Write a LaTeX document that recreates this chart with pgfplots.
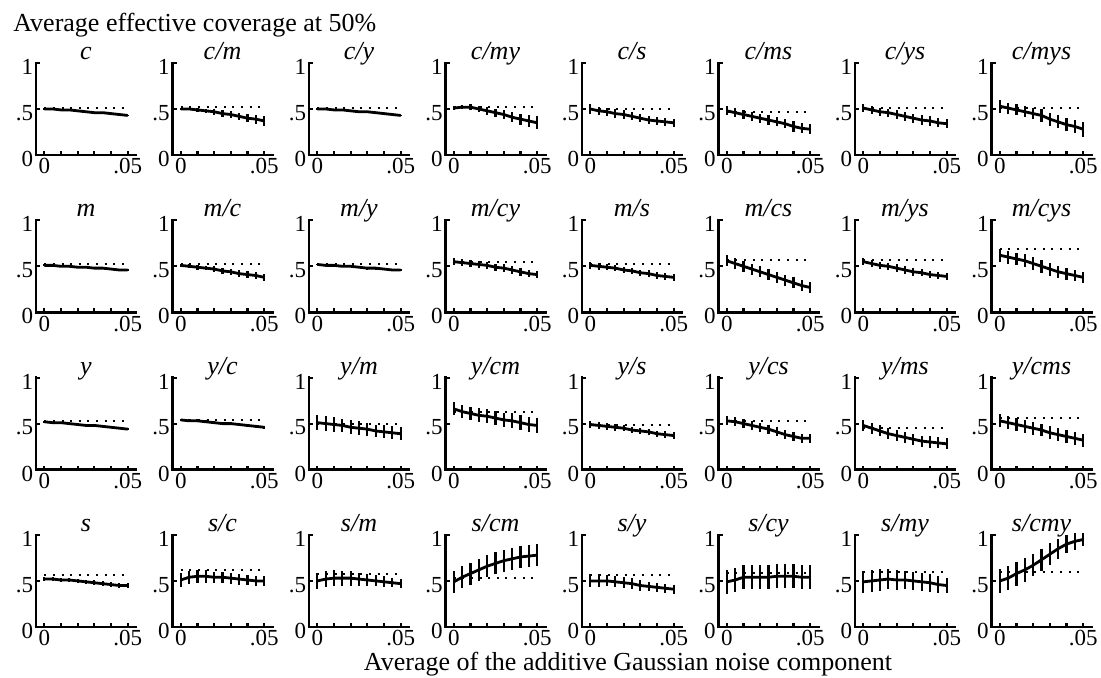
\documentclass[border=0pt]{standalone}
\usepackage{pgfplots}
\pgfplotsset{compat=1.18}
\usepackage{fontspec}
\setmainfont{Liberation Serif}

\pgfplotsset{panel/.style={
  anchor=south west,
  scale only axis, width=50pt, height=46pt,
  xmin=-0.005, xmax=0.055, ymin=0, ymax=1,
  axis lines*=left,
  axis line style={line width=1.3pt, line cap=rect},
  xtick={0,0.01,0.02,0.03,0.04,0.05},
  xticklabels={0,,,,,.05},
  scaled x ticks=false, scaled y ticks=false,
  ytick={0,0.5,1}, yticklabels={0,.5,1},
  tick align=inside, major tick length=2pt,
  tick style={line width=1.1pt, black},
  xticklabel style={font=\fontsize{11.5}{12}\selectfont, inner sep=0pt, anchor=north, yshift=-1.6pt},
  yticklabel style={font=\fontsize{11.5}{12}\selectfont, inner sep=0pt, anchor=east, xshift=-1.3pt, yshift=-2pt},
  every axis title/.style={font=\itshape\fontsize{13}{14}\selectfont, at={(0.5,1)}, anchor=base, inner sep=0pt, yshift=1.8pt},
  clip=false,
}}

\newcommand{\panel}[5]{%
\begin{axis}[panel, at={({(18+68.25*#1)*1pt},{(-77.5-78.65*#2)*1pt})}, title={#3}]
\addplot[black, line width=1pt, dash pattern=on 1pt off 3.3pt] coordinates {(0,#4) (0.05,#4)};
\addplot[black, line width=1.4pt, error bars/.cd, y dir=both, y explicit, error mark=none, error bar style={line width=1.1pt}] table[row sep=\\, x=x, y=y, y error=e] {#5};
\end{axis}}

\begin{document}
\begin{tikzpicture}
\useasboundingbox (0,0) rectangle (550.5pt,-339pt);
\node[anchor=base west, inner sep=0pt, font=\fontsize{13}{15}\selectfont] at (6.5pt,-16pt) {Average effective coverage at 50\%};
\node[anchor=base, inner sep=0pt, font=\fontsize{13}{15}\selectfont] at (314pt,-335pt) {Average of the additive Gaussian noise component};

% Row 1
\panel{0}{0}{c}{0.51}{x y e\\ 0 0.50 0.01\\ 0.005 0.50 0.01\\ 0.01 0.49 0.01\\ 0.015 0.49 0.01\\ 0.02 0.48 0.01\\ 0.025 0.47 0.01\\ 0.03 0.46 0.01\\ 0.035 0.46 0.01\\ 0.04 0.45 0.01\\ 0.045 0.44 0.01\\ 0.05 0.43 0.01\\}
\panel{1}{0}{c/m}{0.52}{x y e\\ 0 0.50 0.01\\ 0.005 0.50 0.015\\ 0.01 0.49 0.02\\ 0.015 0.48 0.025\\ 0.02 0.47 0.03\\ 0.025 0.45 0.035\\ 0.03 0.44 0.04\\ 0.035 0.42 0.04\\ 0.04 0.40 0.045\\ 0.045 0.39 0.05\\ 0.05 0.37 0.05\\}
\panel{2}{0}{c/y}{0.51}{x y e\\ 0 0.50 0.01\\ 0.005 0.50 0.01\\ 0.01 0.49 0.01\\ 0.015 0.49 0.01\\ 0.02 0.48 0.01\\ 0.025 0.47 0.01\\ 0.03 0.47 0.01\\ 0.035 0.46 0.01\\ 0.04 0.45 0.01\\ 0.045 0.44 0.01\\ 0.05 0.43 0.01\\}
\panel{3}{0}{c/my}{0.52}{x y e\\ 0 0.51 0.02\\ 0.005 0.52 0.025\\ 0.01 0.52 0.03\\ 0.015 0.50 0.035\\ 0.02 0.48 0.04\\ 0.025 0.46 0.045\\ 0.03 0.44 0.05\\ 0.035 0.41 0.055\\ 0.04 0.39 0.06\\ 0.045 0.37 0.065\\ 0.05 0.35 0.07\\}
\panel{4}{0}{c/s}{0.50}{x y e\\ 0 0.50 0.05\\ 0.005 0.48 0.045\\ 0.01 0.47 0.045\\ 0.015 0.45 0.045\\ 0.02 0.44 0.045\\ 0.025 0.42 0.045\\ 0.03 0.40 0.045\\ 0.035 0.38 0.045\\ 0.04 0.37 0.045\\ 0.045 0.36 0.045\\ 0.05 0.35 0.045\\}
\panel{5}{0}{c/ms}{0.47}{x y e\\ 0 0.48 0.05\\ 0.005 0.46 0.05\\ 0.01 0.44 0.05\\ 0.015 0.42 0.05\\ 0.02 0.40 0.05\\ 0.025 0.38 0.05\\ 0.03 0.36 0.05\\ 0.035 0.34 0.05\\ 0.04 0.31 0.055\\ 0.045 0.29 0.055\\ 0.05 0.28 0.055\\}
\panel{6}{0}{c/ys}{0.51}{x y e\\ 0 0.51 0.04\\ 0.005 0.49 0.04\\ 0.01 0.47 0.045\\ 0.015 0.46 0.045\\ 0.02 0.44 0.045\\ 0.025 0.42 0.05\\ 0.03 0.40 0.05\\ 0.035 0.38 0.05\\ 0.04 0.37 0.05\\ 0.045 0.35 0.05\\ 0.05 0.34 0.05\\}
\panel{7}{0}{c/mys}{0.51}{x y e\\ 0 0.53 0.07\\ 0.005 0.51 0.06\\ 0.01 0.49 0.06\\ 0.015 0.47 0.06\\ 0.02 0.45 0.06\\ 0.025 0.43 0.07\\ 0.03 0.39 0.07\\ 0.035 0.36 0.07\\ 0.04 0.33 0.07\\ 0.045 0.31 0.07\\ 0.05 0.28 0.08\\}

% Row 2
\panel{0}{1}{m}{0.53}{x y e\\ 0 0.51 0.01\\ 0.005 0.51 0.01\\ 0.01 0.50 0.01\\ 0.015 0.50 0.01\\ 0.02 0.49 0.01\\ 0.025 0.49 0.01\\ 0.03 0.48 0.01\\ 0.035 0.48 0.01\\ 0.04 0.47 0.01\\ 0.045 0.46 0.01\\ 0.05 0.46 0.01\\}
\panel{1}{1}{m/c}{0.52}{x y e\\ 0 0.51 0.02\\ 0.005 0.50 0.02\\ 0.01 0.49 0.025\\ 0.015 0.48 0.025\\ 0.02 0.47 0.03\\ 0.025 0.45 0.03\\ 0.03 0.44 0.035\\ 0.035 0.42 0.035\\ 0.04 0.41 0.04\\ 0.045 0.40 0.04\\ 0.05 0.38 0.04\\}
\panel{2}{1}{m/y}{0.53}{x y e\\ 0 0.52 0.01\\ 0.005 0.51 0.01\\ 0.01 0.51 0.01\\ 0.015 0.50 0.01\\ 0.02 0.50 0.01\\ 0.025 0.49 0.01\\ 0.03 0.48 0.015\\ 0.035 0.48 0.015\\ 0.04 0.47 0.015\\ 0.045 0.46 0.015\\ 0.05 0.46 0.015\\}
\panel{3}{1}{m/cy}{0.55}{x y e\\ 0 0.55 0.04\\ 0.005 0.54 0.04\\ 0.01 0.53 0.04\\ 0.015 0.52 0.04\\ 0.02 0.51 0.04\\ 0.025 0.49 0.04\\ 0.03 0.48 0.04\\ 0.035 0.46 0.04\\ 0.04 0.44 0.04\\ 0.045 0.42 0.04\\ 0.05 0.41 0.04\\}
\panel{4}{1}{m/s}{0.52}{x y e\\ 0 0.51 0.035\\ 0.005 0.50 0.035\\ 0.01 0.49 0.035\\ 0.015 0.48 0.035\\ 0.02 0.46 0.035\\ 0.025 0.45 0.035\\ 0.03 0.43 0.035\\ 0.035 0.42 0.035\\ 0.04 0.40 0.035\\ 0.045 0.39 0.035\\ 0.05 0.38 0.035\\}
\panel{5}{1}{m/cs}{0.57}{x y e\\ 0 0.56 0.06\\ 0.005 0.53 0.06\\ 0.01 0.50 0.06\\ 0.015 0.47 0.06\\ 0.02 0.44 0.06\\ 0.025 0.41 0.06\\ 0.03 0.38 0.06\\ 0.035 0.35 0.06\\ 0.04 0.32 0.06\\ 0.045 0.29 0.06\\ 0.05 0.27 0.06\\}
\panel{6}{1}{m/ys}{0.57}{x y e\\ 0 0.55 0.04\\ 0.005 0.53 0.04\\ 0.01 0.51 0.04\\ 0.015 0.50 0.04\\ 0.02 0.48 0.04\\ 0.025 0.46 0.04\\ 0.03 0.44 0.04\\ 0.035 0.43 0.04\\ 0.04 0.41 0.04\\ 0.045 0.40 0.04\\ 0.05 0.39 0.04\\}
\panel{7}{1}{m/cys}{0.69}{x y e\\ 0 0.62 0.07\\ 0.005 0.60 0.07\\ 0.01 0.58 0.07\\ 0.015 0.56 0.07\\ 0.02 0.53 0.07\\ 0.025 0.50 0.07\\ 0.03 0.47 0.07\\ 0.035 0.44 0.065\\ 0.04 0.42 0.065\\ 0.045 0.40 0.06\\ 0.05 0.38 0.06\\}

% Row 3
\panel{0}{2}{y}{0.53}{x y e\\ 0 0.52 0.01\\ 0.005 0.51 0.01\\ 0.01 0.51 0.01\\ 0.015 0.50 0.01\\ 0.02 0.49 0.01\\ 0.025 0.48 0.01\\ 0.03 0.48 0.01\\ 0.035 0.47 0.01\\ 0.04 0.46 0.01\\ 0.045 0.45 0.01\\ 0.05 0.44 0.01\\}
\panel{1}{2}{y/c}{0.54}{x y e\\ 0 0.54 0.015\\ 0.005 0.53 0.015\\ 0.01 0.53 0.015\\ 0.015 0.52 0.015\\ 0.02 0.51 0.015\\ 0.025 0.50 0.015\\ 0.03 0.50 0.015\\ 0.035 0.49 0.015\\ 0.04 0.48 0.015\\ 0.045 0.47 0.015\\ 0.05 0.46 0.015\\}
\panel{2}{2}{y/m}{0.50}{x y e\\ 0 0.51 0.08\\ 0.005 0.50 0.08\\ 0.01 0.49 0.08\\ 0.015 0.48 0.075\\ 0.02 0.46 0.075\\ 0.025 0.45 0.075\\ 0.03 0.44 0.07\\ 0.035 0.42 0.07\\ 0.04 0.41 0.07\\ 0.045 0.40 0.07\\ 0.05 0.39 0.07\\}
\panel{3}{2}{y/cm}{0.63}{x y e\\ 0 0.66 0.07\\ 0.005 0.63 0.07\\ 0.01 0.61 0.07\\ 0.015 0.59 0.075\\ 0.02 0.58 0.075\\ 0.025 0.56 0.075\\ 0.03 0.54 0.075\\ 0.035 0.53 0.08\\ 0.04 0.51 0.08\\ 0.045 0.49 0.08\\ 0.05 0.48 0.08\\}
\panel{4}{2}{y/s}{0.48}{x y e\\ 0 0.49 0.035\\ 0.005 0.48 0.035\\ 0.01 0.47 0.035\\ 0.015 0.46 0.035\\ 0.02 0.45 0.035\\ 0.025 0.43 0.035\\ 0.03 0.42 0.035\\ 0.035 0.41 0.035\\ 0.04 0.39 0.035\\ 0.045 0.38 0.035\\ 0.05 0.37 0.035\\}
\panel{5}{2}{y/cs}{0.53}{x y e\\ 0 0.53 0.05\\ 0.005 0.52 0.05\\ 0.01 0.50 0.05\\ 0.015 0.48 0.05\\ 0.02 0.46 0.05\\ 0.025 0.44 0.05\\ 0.03 0.41 0.05\\ 0.035 0.38 0.05\\ 0.04 0.36 0.05\\ 0.045 0.34 0.05\\ 0.05 0.34 0.05\\}
\panel{6}{2}{y/ms}{0.45}{x y e\\ 0 0.48 0.06\\ 0.005 0.45 0.06\\ 0.01 0.42 0.06\\ 0.015 0.39 0.06\\ 0.02 0.37 0.06\\ 0.025 0.35 0.06\\ 0.03 0.33 0.06\\ 0.035 0.31 0.06\\ 0.04 0.30 0.06\\ 0.045 0.29 0.06\\ 0.05 0.28 0.06\\}
\panel{7}{2}{y/cms}{0.56}{x y e\\ 0 0.53 0.07\\ 0.005 0.51 0.07\\ 0.01 0.49 0.07\\ 0.015 0.47 0.07\\ 0.02 0.45 0.07\\ 0.025 0.43 0.07\\ 0.03 0.40 0.07\\ 0.035 0.38 0.07\\ 0.04 0.36 0.07\\ 0.045 0.34 0.07\\ 0.05 0.32 0.07\\}

% Row 4
\panel{0}{3}{s}{0.56}{x y e\\ 0 0.52 0.025\\ 0.005 0.52 0.025\\ 0.01 0.51 0.025\\ 0.015 0.51 0.025\\ 0.02 0.50 0.025\\ 0.025 0.49 0.025\\ 0.03 0.48 0.025\\ 0.035 0.47 0.025\\ 0.04 0.46 0.025\\ 0.045 0.45 0.025\\ 0.05 0.45 0.025\\}
\panel{1}{3}{s/c}{0.62}{x y e\\ 0 0.51 0.08\\ 0.005 0.54 0.07\\ 0.01 0.55 0.07\\ 0.015 0.55 0.07\\ 0.02 0.54 0.06\\ 0.025 0.54 0.06\\ 0.03 0.53 0.06\\ 0.035 0.52 0.06\\ 0.04 0.51 0.05\\ 0.045 0.50 0.05\\ 0.05 0.50 0.05\\}
\panel{2}{3}{s/m}{0.58}{x y e\\ 0 0.50 0.09\\ 0.005 0.52 0.09\\ 0.01 0.53 0.09\\ 0.015 0.53 0.08\\ 0.02 0.53 0.08\\ 0.025 0.52 0.07\\ 0.03 0.51 0.07\\ 0.035 0.50 0.06\\ 0.04 0.49 0.06\\ 0.045 0.48 0.05\\ 0.05 0.47 0.05\\}
\panel{3}{3}{s/cm}{0.53}{x y e\\ 0 0.49 0.12\\ 0.005 0.54 0.12\\ 0.01 0.58 0.12\\ 0.015 0.62 0.12\\ 0.02 0.66 0.12\\ 0.025 0.69 0.12\\ 0.03 0.72 0.12\\ 0.035 0.74 0.12\\ 0.04 0.76 0.12\\ 0.045 0.77 0.12\\ 0.05 0.78 0.12\\}
\panel{4}{3}{s/y}{0.56}{x y e\\ 0 0.50 0.07\\ 0.005 0.50 0.07\\ 0.01 0.50 0.06\\ 0.015 0.49 0.06\\ 0.02 0.48 0.06\\ 0.025 0.47 0.06\\ 0.03 0.45 0.06\\ 0.035 0.44 0.05\\ 0.04 0.43 0.05\\ 0.045 0.42 0.05\\ 0.05 0.41 0.05\\}
\panel{5}{3}{s/cy}{0.59}{x y e\\ 0 0.49 0.13\\ 0.005 0.51 0.13\\ 0.01 0.54 0.13\\ 0.015 0.54 0.13\\ 0.02 0.54 0.13\\ 0.025 0.54 0.13\\ 0.03 0.55 0.13\\ 0.035 0.55 0.13\\ 0.04 0.55 0.13\\ 0.045 0.54 0.13\\ 0.05 0.54 0.13\\}
\panel{6}{3}{s/my}{0.60}{x y e\\ 0 0.49 0.12\\ 0.005 0.50 0.12\\ 0.01 0.51 0.12\\ 0.015 0.52 0.11\\ 0.02 0.51 0.11\\ 0.025 0.51 0.10\\ 0.03 0.50 0.10\\ 0.035 0.49 0.10\\ 0.04 0.48 0.10\\ 0.045 0.46 0.09\\ 0.05 0.45 0.08\\}
\panel{7}{3}{s/cmy}{0.60}{x y e\\ 0 0.50 0.13\\ 0.005 0.53 0.13\\ 0.01 0.58 0.13\\ 0.015 0.62 0.13\\ 0.02 0.67 0.12\\ 0.025 0.73 0.12\\ 0.03 0.79 0.12\\ 0.035 0.85 0.11\\ 0.04 0.90 0.10\\ 0.045 0.93 0.09\\ 0.05 0.95 0.07\\}
\end{tikzpicture}
\end{document}
